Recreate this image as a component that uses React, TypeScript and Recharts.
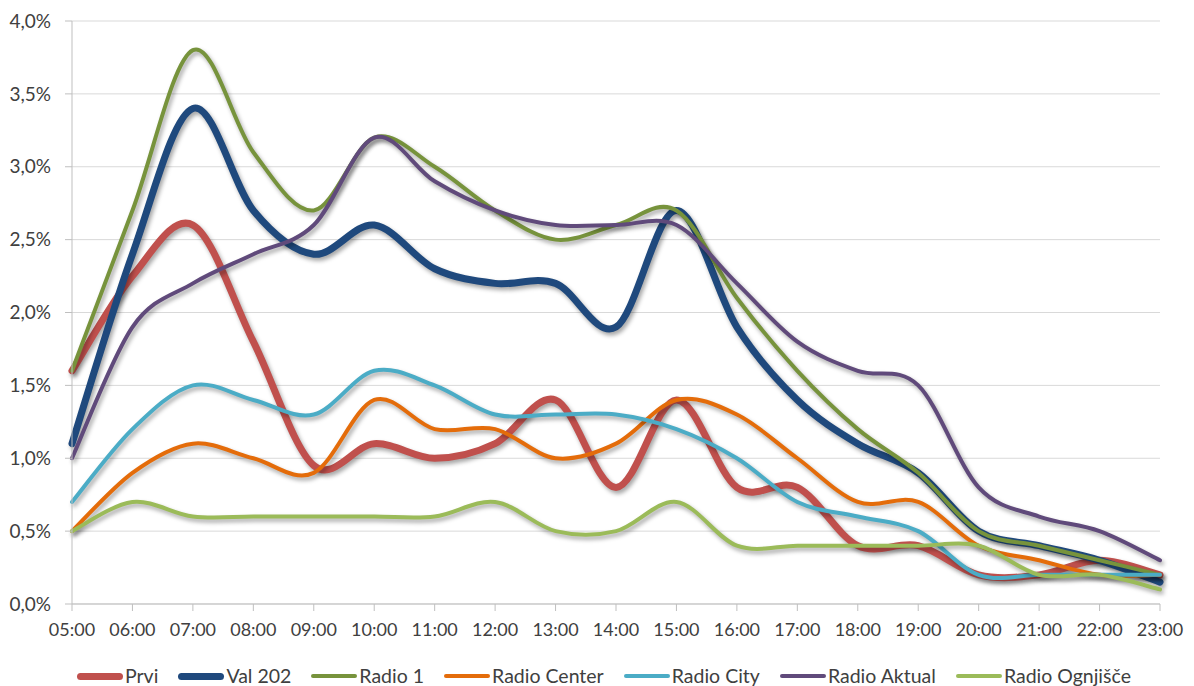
import { LineChart, Line, XAxis, YAxis, CartesianGrid, Legend } from 'recharts'

const hours = [
  '05:00', '06:00', '07:00', '08:00', '09:00', '10:00', '11:00', '12:00', '13:00', '14:00',
  '15:00', '16:00', '17:00', '18:00', '19:00', '20:00', '21:00', '22:00', '23:00',
]

const prvi = [1.6, 2.25, 2.6, 1.8, 0.95, 1.1, 1.0, 1.1, 1.4, 0.8, 1.4, 0.8, 0.8, 0.4, 0.4, 0.2, 0.2, 0.3, 0.2]
const val202 = [1.1, 2.4, 3.4, 2.7, 2.4, 2.6, 2.3, 2.2, 2.2, 1.9, 2.7, 1.9, 1.4, 1.1, 0.9, 0.5, 0.4, 0.3, 0.15]
const radio1 = [1.6, 2.7, 3.8, 3.1, 2.7, 3.2, 3.0, 2.7, 2.5, 2.6, 2.7, 2.1, 1.6, 1.2, 0.9, 0.5, 0.4, 0.3, 0.2]
const radioCenter = [0.5, 0.9, 1.1, 1.0, 0.9, 1.4, 1.2, 1.2, 1.0, 1.1, 1.4, 1.3, 1.0, 0.7, 0.7, 0.4, 0.3, 0.2, 0.2]
const radioCity = [0.7, 1.2, 1.5, 1.4, 1.3, 1.6, 1.5, 1.3, 1.3, 1.3, 1.2, 1.0, 0.7, 0.6, 0.5, 0.2, 0.2, 0.2, 0.2]
const radioAktual = [1.0, 1.9, 2.2, 2.4, 2.6, 3.2, 2.9, 2.7, 2.6, 2.6, 2.6, 2.2, 1.8, 1.6, 1.5, 0.8, 0.6, 0.5, 0.3]
const radioOgnjisce = [0.5, 0.7, 0.6, 0.6, 0.6, 0.6, 0.6, 0.7, 0.5, 0.5, 0.7, 0.4, 0.4, 0.4, 0.4, 0.4, 0.2, 0.2, 0.1]

const yTicks = [0, 0.5, 1, 1.5, 2, 2.5, 3, 3.5, 4]

const series = [
  { key: 'prvi', name: 'Prvi', values: prvi, color: '#C0504D', width: 7 },
  { key: 'val202', name: 'Val 202', values: val202, color: '#1F497D', width: 7 },
  { key: 'radio1', name: 'Radio 1', values: radio1, color: '#77933C', width: 4 },
  { key: 'radioCenter', name: 'Radio Center', values: radioCenter, color: '#E46C0A', width: 4 },
  { key: 'radioCity', name: 'Radio City', values: radioCity, color: '#4BACC6', width: 4 },
  { key: 'radioAktual', name: 'Radio Aktual', values: radioAktual, color: '#604A7B', width: 4 },
  { key: 'radioOgnjisce', name: 'Radio Ognjišče', values: radioOgnjisce, color: '#9BBB59', width: 4 },
]

const data = hours.map((hour, i) => {
  const row: Record<string, string | number> = { hour }
  series.forEach(s => { row[s.key] = s.values[i] })
  return row
})

// Excel-style smoothing: cubic bezier with control points at 1/6 of the neighbour span
const smoothCurve = (context: any) => {
  let pts: [number, number][] = []
  return {
    areaStart() {},
    areaEnd() {},
    lineStart() { pts = [] },
    point(x: number, y: number) { pts.push([+x, +y]) },
    lineEnd() {
      if (!pts.length) return
      context.moveTo(pts[0][0], pts[0][1])
      for (let i = 0; i < pts.length - 1; i++) {
        const p0 = pts[Math.max(i - 1, 0)]
        const p1 = pts[i]
        const p2 = pts[i + 1]
        const p3 = pts[Math.min(i + 2, pts.length - 1)]
        context.bezierCurveTo(
          p1[0] + (p2[0] - p0[0]) / 6, p1[1] + (p2[1] - p0[1]) / 6,
          p2[0] - (p3[0] - p1[0]) / 6, p2[1] - (p3[1] - p1[1]) / 6,
          p2[0], p2[1],
        )
      }
    },
  }
}

const font = 'Lato, "Open Sans", sans-serif'
const textColor = '#404040'

const LegendContent = () => (
  <div style={{ display: 'flex', alignItems: 'center', height: 20, lineHeight: '20px', paddingLeft: 69, fontFamily: font, fontSize: 19.5, color: textColor, whiteSpace: 'nowrap' }}>
    {series.map(s => (
      <div key={s.key} style={{ display: 'flex', alignItems: 'center', marginRight: 20 }}>
        <span style={{ display: 'inline-block', width: 46, height: s.width, borderRadius: s.width, background: s.color, marginRight: 2 }} />
        <span>{s.name}</span>
      </div>
    ))}
  </div>
)

export default function App() {
  return (
    <div style={{ width: 1178, height: 678 }}>
      <style>{`.recharts-line-curve { filter: drop-shadow(2px 3px 2px rgba(0,0,0,0.35)); }`}</style>
      <LineChart width={1178} height={678} data={data} margin={{ top: 13, right: 26, left: 0, bottom: 0 }}>
        <CartesianGrid vertical={false} stroke="#D9D9D9" strokeWidth={1} />
        <XAxis
          dataKey="hour"
          height={62}
          stroke="#BFBFBF"
          tickSize={7}
          tickMargin={12}
          interval={0}
          tick={{ fill: textColor, fontSize: 18, fontFamily: font }}
        />
        <YAxis
          width={64}
          domain={[0, 4]}
          ticks={yTicks}
          stroke="#BFBFBF"
          tickSize={7}
          tickMargin={14}
          tick={{ fill: textColor, fontSize: 19, fontFamily: font }}
          tickFormatter={(v: number) => `${v.toFixed(1).replace('.', ',')}%`}
        />
        <Legend verticalAlign="bottom" height={20} content={<LegendContent />} />
        {series.map(s => (
          <Line
            key={s.key}
            dataKey={s.key}
            name={s.name}
            type={smoothCurve as any}
            stroke={s.color}
            strokeWidth={s.width}
            strokeLinecap="round"
            dot={false}
            activeDot={false}
            isAnimationActive={false}
          />
        ))}
      </LineChart>
    </div>
  )
}
